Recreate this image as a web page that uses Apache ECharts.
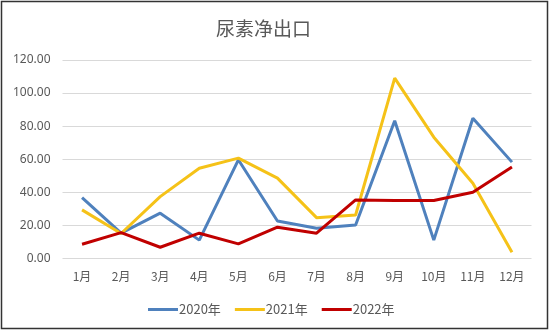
<!DOCTYPE html>
<html><head><meta charset="utf-8">
<script src="https://cdn.jsdelivr.net/npm/echarts@6/dist/echarts.min.js"></script>
<style>html,body{margin:0;padding:0;background:#fff}#c{width:550px;height:331px}</style>
</head><body><div id="c"></div>
<script>
const months = ['1月','2月','3月','4月','5月','6月','7月','8月','9月','10月','11月','12月'];
const s2020 = [36.7, 15.2, 27.3, 11.0, 59.6, 22.6, 18.2, 20.2, 83.2, 11.0, 84.8, 58.2];
const s2021 = [29.3, 15.0, 37.3, 54.5, 60.6, 48.5, 24.6, 26.2, 109.0, 73.3, 45.4, 3.6];
const s2022 = [8.5, 15.5, 6.7, 15.2, 8.7, 18.8, 15.2, 35.3, 35.0, 35.0, 40.0, 55.2];
const names = ['2020年','2021年','2022年'];
const colors = ['#4F81BD','#F5C218','#C00000'];
const chart = echarts.init(document.getElementById('c'));
const mk = (n, d, c) => ({name:n, type:'line', data:d, symbol:'none', smooth:false,
  lineStyle:{width:3, color:c}, itemStyle:{color:c}});
chart.setOption({
  animation:false,
  title:{text:'尿素净出口', left:211, top:14, textStyle:{fontSize:19, fontWeight:'normal', color:'#595959', fontFamily:'Noto Sans CJK SC'}},
  graphic:[{type:'rect', shape:{x:1.5,y:1.5,width:546,height:327}, style:{fill:'none', stroke:'#333', lineWidth:1.5}}],
  grid:{left:62.5, right:18.5, top:60, bottom:72.7},
  legend:{top:298, left:143, itemWidth:30, itemHeight:3, itemGap:14, icon:'rect',
    textStyle:{fontSize:13, color:'#595959', fontFamily:'Noto Sans CJK SC', padding:[0,0,0,-4]}},
  xAxis:{type:'category', data:months, boundaryGap:true,
    axisLine:{show:false}, axisTick:{show:false},
    axisLabel:{color:'#595959', fontSize:12, margin:12, fontFamily:'Noto Sans CJK SC'}},
  yAxis:{type:'value', min:0, max:120, interval:20,
    axisLabel:{formatter:v=>v.toFixed(2), color:'#595959', fontSize:12, margin:12, fontFamily:'Noto Sans'},
    splitLine:{lineStyle:{color:'#D9D9D9'}}, axisLine:{show:false}, axisTick:{show:false}},
  series:[mk(names[0], s2020, colors[0]), mk(names[1], s2021, colors[1]), mk(names[2], s2022, colors[2])]
});
</script></body></html>
